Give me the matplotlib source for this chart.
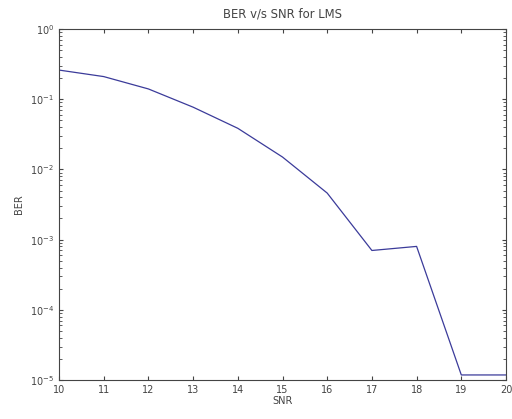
import numpy as np
import matplotlib.pyplot as plt

snr = [10, 11, 12, 13, 14, 15, 16, 17, 18, 19, 20]
ber = [0.26, 0.21, 0.14, 0.077, 0.0385, 0.015, 0.0046, 7.0e-4, 8.0e-4, 1.18e-5, 1.18e-5]

plt.rcParams['font.size'] = 7
fig = plt.figure(figsize=(5.12, 4.19), dpi=100)
ax = fig.add_axes([59 / 512, 1 - 380 / 419, (506 - 59) / 512, (380 - 29) / 419])
ax.semilogy(snr, ber, color='#3b3b9a', linewidth=0.9)
ax.set_xlim(10, 20)
ax.set_ylim(1e-5, 1)
ax.set_xticks(range(10, 21))
ax.tick_params(direction='in', top=True, right=True, which='both', length=3, colors='#444444')
ax.tick_params(which='minor', length=2)
for s in ax.spines.values():
    s.set_color('#444444')
ax.set_xlabel('SNR', labelpad=1, color='#444444')
ax.set_ylabel('BER', color='#444444')
ax.set_title('BER v/s SNR for LMS', color='#444444', pad=8)
for lbl in ax.get_xticklabels() + ax.get_yticklabels():
    lbl.set_color('#444444')
fig.savefig('out.png', dpi=100)
